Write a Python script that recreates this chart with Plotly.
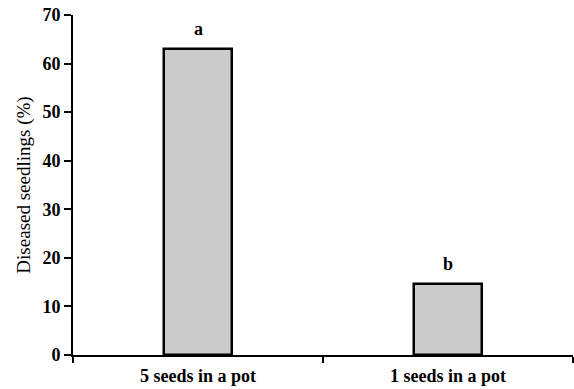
import plotly.graph_objects as go

categories = ["5 seeds in a pot", "1 seeds in a pot"]
diseased = [63, 14.6]
letters = ["a", "b"]

SERIF = "Times New Roman, Liberation Serif, serif"

fig = go.Figure()
fig.add_trace(go.Bar(
    x=categories, y=diseased,
    width=0.272,
    marker=dict(color="#cbcbcb", line=dict(color="black", width=2.5)),
    showlegend=False,
    hoverinfo="skip",
))
for c, v, t in zip(categories, diseased, letters):
    fig.add_annotation(x=c, y=v, text="<b>%s</b>" % t, showarrow=False,
                       yanchor="bottom", yshift=8,
                       font=dict(family=SERIF, size=18, color="black"))

fig.update_layout(
    width=574, height=389,
    margin=dict(l=73, r=1, t=15, b=34, pad=0),
    paper_bgcolor="white", plot_bgcolor="white",
    font=dict(family=SERIF, color="black"),
    bargap=0,
)
fig.update_xaxes(
    type="category", range=[-0.5, 1.5],
    showline=True, linecolor="black", linewidth=2,
    ticks="outside", tickson="boundaries", ticklen=6, tickwidth=2, tickcolor="black",
    tickfont=dict(family=SERIF, size=18, weight="bold"),
    ticklabelstandoff=3,
    showgrid=False, zeroline=False,
)
fig.update_yaxes(
    range=[0, 70], dtick=10,
    showline=True, linecolor="black", linewidth=2,
    ticks="outside", ticklen=7, tickwidth=2, tickcolor="black",
    tickfont=dict(family=SERIF, size=18, weight="bold"),
    showgrid=False, zeroline=False,
    title=dict(text="Diseased seedlings (%)", font=dict(family=SERIF, size=19), standoff=7),
)
fig.write_html("out.html", config={"displayModeBar": False},
               post_script="document.body.style.margin='0px';")
